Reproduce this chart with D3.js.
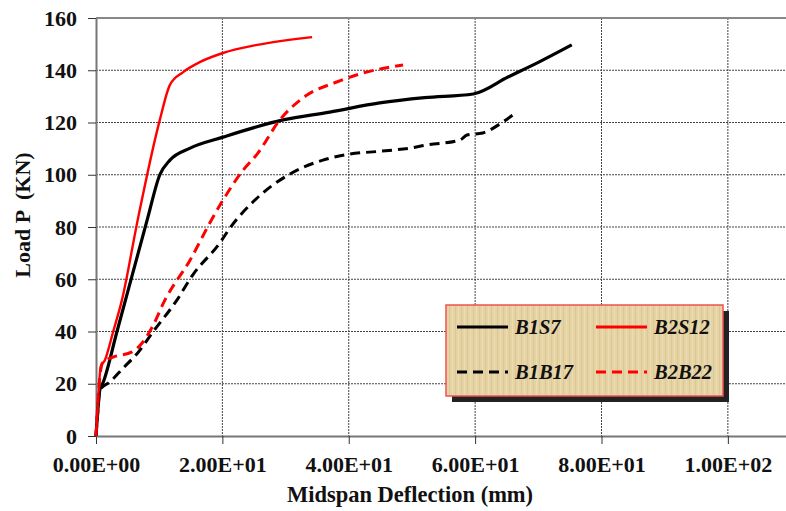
<!DOCTYPE html>
<html>
<head>
<meta charset="utf-8">
<script src="https://cdn.jsdelivr.net/npm/d3@7"></script>
<style>
  body { margin: 0; background: #fff; }
  text { font-family: "Liberation Serif", "Times New Roman", serif; font-weight: bold; }
</style>
</head>
<body>
<div id="chart"></div>
<script>
// deflection (mm) / load (KN)
var b1s7X = [0, 0.3, 0.6, 1.1, 3.3, 8.1, 10.1, 11.7, 14.9, 20.1, 29.6, 37, 44.9, 52, 59.7, 65.2, 70, 75.3];
var b1s7Y = [0, 10, 17.6, 20.3, 39.8, 82.7, 100, 105.6, 110.2, 114.4, 121, 124, 127.5, 129.5, 130.9, 137.4, 143, 149.7];

var b2s12X = [0, 0.3, 0.74, 1.4, 2.7, 4.1, 6.6, 10.1, 11.7, 13.8, 16.5, 20.1, 25.5, 34.2];
var b2s12Y = [0, 12, 26.5, 29, 39.8, 52, 82.7, 121, 134.4, 139.3, 143.2, 146.6, 149.7, 152.7];

var b1b17X = [0, 0.3, 0.6, 2.2, 4.3, 6.6, 9.0, 12.8, 15.3, 19.6, 21.2, 25.5, 30.7, 35.9, 40.2, 45, 49.7, 52.4, 57.6, 58.7, 61.2, 64.4, 66];
var b1b17Y = [0, 10, 17.6, 20.7, 26, 31.8, 39.8, 52, 61.6, 73.9, 79.6, 91.1, 100.3, 105.6, 107.9, 109, 110.2, 111.4, 113.3, 115.2, 116, 120.2, 122.9];

var b2b22X = [0, 0.5, 1.1, 2.7, 5.7, 7.3, 8.9, 10.9, 14.9, 18, 20.1, 23.3, 25.5, 29.1, 33.4, 38.1, 42.2, 48.6];
var b2b22Y = [0, 20, 28.3, 30.2, 32.2, 35.6, 41.7, 52, 67.4, 81.5, 90.3, 101.8, 107.9, 121, 130.5, 135.5, 138.9, 142];

var xTicks = [0, 20, 40, 60, 80, 100];
var xTickLabels = ['0.00E+00', '2.00E+01', '4.00E+01', '6.00E+01', '8.00E+01', '1.00E+02'];
var yTicks = [0, 20, 40, 60, 80, 100, 120, 140, 160];

var seriesNames = ['B1S7', 'B2S12', 'B1B17', 'B2B22'];

var margin = { top: 18, right: 0, bottom: 75, left: 96 };
var width = 786 - margin.left - margin.right;
var height = 511 - margin.top - margin.bottom;

var svg = d3.select('#chart')
  .append('svg')
    .attr('width', width + margin.left + margin.right)
    .attr('height', height + margin.top + margin.bottom)
  .append('g')
    .attr('transform', 'translate(' + margin.left + ', ' + margin.top + ')');

var xScale = d3.scaleLinear().domain([0, 109.2]).range([0, width]);
var yScale = d3.scaleLinear().domain([0, 160]).range([height, 0]);

// grid
svg.append('g').selectAll('line')
  .data(yTicks.filter(d => d > 0 && d < 160))
  .enter().append('line')
    .attr('x1', 0).attr('x2', width)
    .attr('y1', d => yScale(d)).attr('y2', d => yScale(d))
    .attr('stroke', '#444').attr('stroke-width', 1)
    .attr('stroke-dasharray', '2,1');
svg.append('g').selectAll('line')
  .data(xTicks.filter(d => d > 0))
  .enter().append('line')
    .attr('x1', d => xScale(d)).attr('x2', d => xScale(d))
    .attr('y1', 0).attr('y2', height)
    .attr('stroke', '#444').attr('stroke-width', 1)
    .attr('stroke-dasharray', '2,1');

// top border
svg.append('line')
  .attr('x1', 0).attr('x2', width).attr('y1', 0).attr('y2', 0)
  .attr('stroke', '#888').attr('stroke-width', 2);

// axes
var xAxis = d3.axisBottom(xScale)
  .tickValues(xTicks)
  .tickFormat((d, i) => xTickLabels[i])
  .tickSize(8)
  .tickPadding(8)
  .tickSizeOuter(0);
var gx = svg.append('g')
  .attr('transform', `translate(0, ${height})`)
  .call(xAxis);

var yAxis = d3.axisLeft(yScale)
  .tickValues(yTicks)
  .tickSize(8)
  .tickPadding(11)
  .tickSizeOuter(0);
var gy = svg.append('g').call(yAxis);

[gx, gy].forEach(function (g) {
  g.select('.domain').attr('stroke', '#777').attr('stroke-width', 2);
  g.selectAll('.tick line').attr('stroke', '#333');
  g.selectAll('.tick text')
    .attr('fill', '#111')
    .style('font-family', '"Liberation Serif", serif')
    .style('font-weight', 'bold')
    .style('font-size', '22px');
});
gx.selectAll('.tick text').attr('dy', '0.9em');

// axis titles
svg.append('text')
  .attr('x', 410 - margin.left).attr('y', 502 - margin.top)
  .attr('text-anchor', 'middle')
  .style('font-size', '22.5px')
  .attr('fill', '#111')
  .text('Midspan Deflection (mm)');

svg.append('text')
  .attr('transform', 'translate(' + (30 - margin.left) + ',' + (215 - margin.top) + ') rotate(-90)')
  .attr('text-anchor', 'middle')
  .style('font-size', '22px')
  .style('white-space', 'pre')
  .attr('fill', '#111')
  .text('Load P  (KN)');

// curves
var line = d3.line()
  .x(d => xScale(d[0]))
  .y(d => yScale(d[1]))
  .curve(d3.curveMonotoneX);

var series = [
  { name: seriesNames[0], xs: b1s7X, ys: b1s7Y, color: '#000', dash: null, w: 3.2 },
  { name: seriesNames[1], xs: b2s12X, ys: b2s12Y, color: '#ff0000', dash: null, w: 2.4 },
  { name: seriesNames[2], xs: b1b17X, ys: b1b17Y, color: '#000', dash: '10,6', w: 3 },
  { name: seriesNames[3], xs: b2b22X, ys: b2b22Y, color: '#ff0000', dash: '10,6', w: 3 }
];

svg.selectAll('path.curve')
  .data(series)
  .enter().append('path')
    .attr('class', 'curve')
    .attr('d', s => line(s.xs.map((x, i) => [x, s.ys[i]])))
    .attr('fill', 'none')
    .attr('stroke', s => s.color)
    .attr('stroke-width', s => s.w)
    .attr('stroke-dasharray', s => s.dash)
    .attr('stroke-linejoin', 'round');

// legend
var lg = svg.append('g')
  .attr('transform', 'translate(' + (446 - margin.left) + ',' + (305 - margin.top) + ')');
var lw = 277, lh = 91;

var defs = d3.select('svg').append('defs');
var pat = defs.append('pattern')
  .attr('id', 'paper')
  .attr('width', 6).attr('height', 40)
  .attr('patternUnits', 'userSpaceOnUse');
pat.append('rect').attr('width', 6).attr('height', 40).attr('fill', '#e6d3a4');
pat.append('rect').attr('x', 0).attr('width', 1).attr('height', 40).attr('fill', '#ecdcb4');
pat.append('rect').attr('x', 3).attr('width', 1).attr('height', 40).attr('fill', '#dcc896');

lg.append('rect')
  .attr('x', 6).attr('y', 6).attr('width', lw).attr('height', lh)
  .attr('fill', '#222');
lg.append('rect')
  .attr('width', lw).attr('height', lh)
  .attr('fill', 'url(#paper)')
  .attr('stroke', '#f05050').attr('stroke-width', 1.5);

var items = lg.selectAll('g.item')
  .data(series)
  .enter().append('g')
    .attr('class', 'item')
    .attr('transform', (s, i) => 'translate(' + (i % 2 === 0 ? 11 : 150) + ',' + (i < 2 ? 22 : 67) + ')');
items.append('line')
  .attr('x1', 0).attr('x2', 51)
  .attr('stroke', s => s.color)
  .attr('stroke-width', 3)
  .attr('stroke-dasharray', s => s.dash);
items.append('text')
  .attr('x', 58).attr('dy', '0.35em')
  .style('font-size', '20.5px')
  .style('font-style', 'italic')
  .attr('fill', '#111')
  .text(s => s.name);
</script>
</body>
</html>
